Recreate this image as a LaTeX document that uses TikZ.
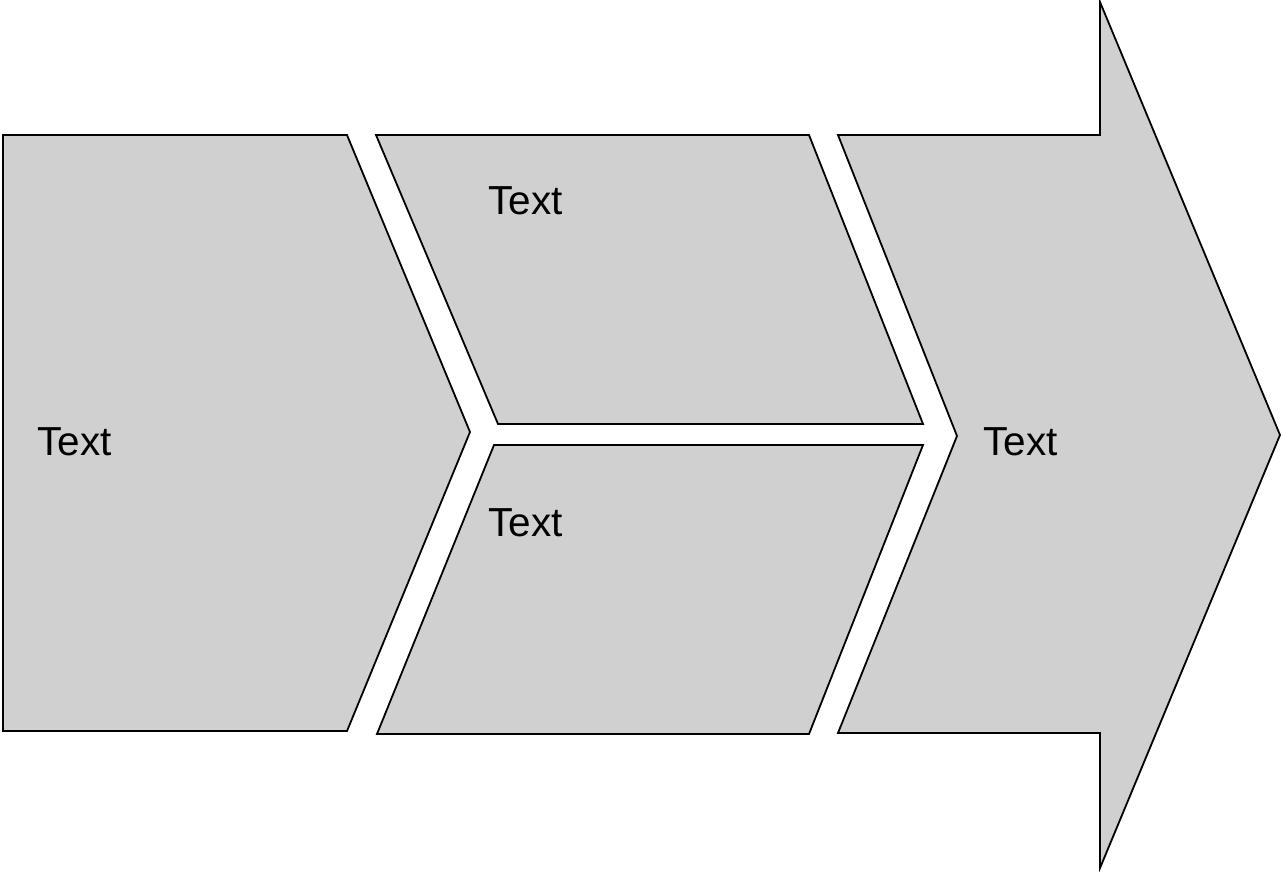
\documentclass[tikz,border=0pt]{standalone}
\usepackage{fontspec}
\setmainfont{Liberation Sans}
\usepackage{tikz}
\usetikzlibrary{positioning}
\definecolor{blockGray}{RGB}{208, 208, 208}
\definecolor{edgeBlack}{RGB}{0, 0, 0}

\begin{document}
\begin{tikzpicture}[
    x=1pt, y=-1pt,
    block/.style={
        fill=blockGray,
        draw=edgeBlack,
        line width=1.8pt,
        line join=miter
    },
    label/.style={
        anchor=base west,
        inner sep=0pt,
        font=\fontsize{40.5}{48}\selectfont,
        text=black
    }
]
\useasboundingbox (0,0) rectangle (1282,872);

% Left chevron
\draw[block] (3,135) -- (347,135) -- (470,432) -- (347,731) -- (3,731) -- cycle;

% Middle parallelograms
\draw[block] (376,135) -- (809,135) -- (923,424) -- (498,424) -- cycle;
\draw[block] (494,445) -- (923,445) -- (809,734) -- (377,734) -- cycle;

% Right arrow
\draw[block] (838,135) -- (1100,135) -- (1100,2) -- (1280,435)
    -- (1100,868) -- (1100,733) -- (838,733) -- (957,436) -- cycle;

% Labels
\node[label] (tleft) at (37,455) {Text};
\node[label] (ttop) at (488,214) {Text};
\node[label] (tbottom) at (488,536) {Text};
\node[label] (tright) at (983,455) {Text};

\end{tikzpicture}
\end{document}
